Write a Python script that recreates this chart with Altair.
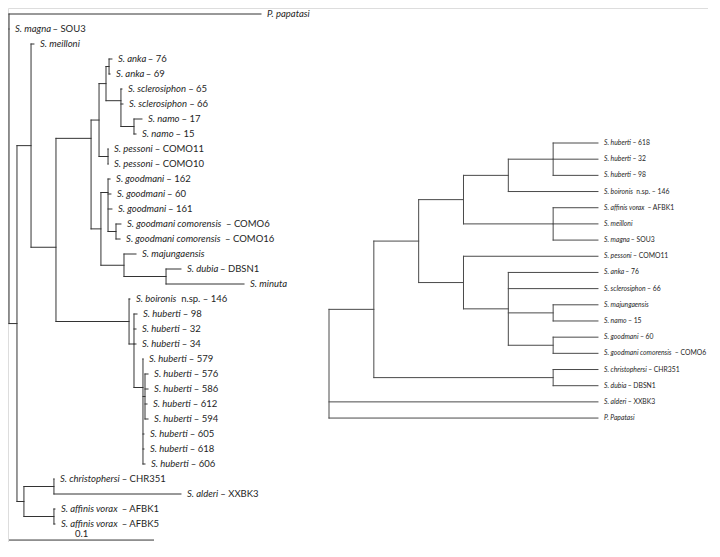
import altair as alt
import pandas as pd

# ---------------- Left tree: phylogram (branch lengths, substitutions/site) ----------------
L_id = ["root", "papatasi", "magna", "B", "C", "meilloni", "D", "E", "F", "F1", "ANKA", "anka76", "anka69",
        "F2", "scl65", "scl66", "NAMO", "namo17", "namo15", "PESS", "pess11", "pess10",
        "G", "GOOD", "good162", "good60", "good161", "COMOR", "com6", "com16",
        "MAJ", "majung", "DM", "dubia", "minuta",
        "H", "boironis", "H2", "h98", "h32", "h34", "H3", "h579", "H4", "h576", "h586", "h612", "h594",
        "h605", "h618", "h606",
        "CAAF", "CA", "christ", "alderi", "AF", "afbk1", "afbk5"]
L_parent = [None, "root", "root", "root", "B", "C", "C", "D", "E", "F", "F1", "ANKA", "ANKA",
            "F1", "F2", "F2", "F2", "NAMO", "NAMO", "F", "PESS", "PESS",
            "E", "G", "GOOD", "GOOD", "GOOD", "GOOD", "COMOR", "COMOR",
            "G", "MAJ", "MAJ", "DM", "DM",
            "D", "H", "H", "H2", "H2", "H2", "H2", "H3", "H3", "H4", "H4", "H4", "H4",
            "H3", "H3", "H3",
            "B", "CAAF", "CA", "CA", "CAAF", "AF", "AF"]
L_depth = [0.0, 0.1738, 0.0, 0.0055, 0.0152, 0.0172, 0.0324, 0.0566, 0.0621, 0.0669, 0.0690, 0.0710, 0.0697,
           0.0772, 0.0779, 0.0786, 0.0862, 0.0917, 0.0876, 0.0683, 0.0683, 0.0683,
           0.0634, 0.0683, 0.0697, 0.0703, 0.0710, 0.0738, 0.0772, 0.0766,
           0.0793, 0.0876, 0.1083, 0.1186, 0.1621,
           0.0828, 0.0834, 0.0862, 0.0883, 0.0876, 0.0876, 0.0924, 0.0924, 0.0938, 0.0959, 0.0959, 0.0952, 0.0959,
           0.0931, 0.0931, 0.0938,
           0.0103, 0.0310, 0.0310, 0.1186, 0.0310, 0.0317, 0.0317]
L_row = [None, 0, 1, None, None, 2, None, None, None, None, None, 3, 4,
         None, 5, 6, None, 7, 8, None, 9, 10,
         None, None, 11, 12, 13, None, 14, 15,
         None, 16, None, 17, 18,
         None, 19, None, 20, 21, 22, None, 23, None, 24, 25, 26, 27,
         28, 29, 30,
         None, None, 31, 32, None, 33, 34]
L_name = ["", "P. papatasi", "S. magna", "", "", "S. meilloni", "", "", "", "", "", "S. anka", "S. anka",
          "", "S. sclerosiphon", "S. sclerosiphon", "", "S. namo", "S. namo", "", "S. pessoni", "S. pessoni",
          "", "", "S. goodmani", "S. goodmani", "S. goodmani", "", "S. goodmani comorensis", "S. goodmani comorensis",
          "", "S. majungaensis", "", "S. dubia", "S. minuta",
          "", "S. boironis", "", "S. huberti", "S. huberti", "S. huberti", "", "S. huberti", "", "S. huberti",
          "S. huberti", "S. huberti", "S. huberti", "S. huberti", "S. huberti", "S. huberti",
          "", "", "S. christophersi", "S. alderi", "", "S. affinis vorax", "S. affinis vorax"]
L_suffix = ["", "", " – SOU3", "", "", "", "", "", "", "", "", " – 76", " – 69",
            "", " – 65", " – 66", "", " – 17", " – 15", "", " – COMO11", " – COMO10",
            "", "", " – 162", " – 60", " – 161", "", "  – COMO6", "  – COMO16",
            "", "", "", " – DBSN1", "",
            "", "  n.sp. – 146", "", " – 98", " – 32", " – 34", "", " – 579", "", " – 576", " – 586", " – 612",
            " – 594", " – 605", " – 618", " – 606",
            "", "", " – CHR351", " – XXBK3", "", "  – AFBK1", "  – AFBK5"]
# rows at which some internal nodes attach to their parent
L_attach = {"D": 15.55, "E": 8.29, "F2": 5.78, "GOOD": 11.9, "H2": 22.0, "H3": 24.9}
SCALE_BAR = 0.1

# ---------------- Right tree: cladogram (node levels) ----------------
R_id = ["R0", "R1", "R2", "R3a", "R4a", "HUB", "h618", "h32", "h98", "boir", "AFF", "afbk1", "meil", "magna",
        "R3b", "pess", "R4b", "anka", "scl", "MN", "maj", "namo", "GC", "good", "com", "CD", "chr", "dub",
        "ald", "pap"]
R_parent = [None, "R0", "R1", "R2", "R3a", "R4a", "HUB", "HUB", "HUB", "R4a", "R3a", "AFF", "AFF", "AFF",
            "R2", "R3b", "R3b", "R4b", "R4b", "R4b", "MN", "MN", "R4b", "GC", "GC", "R1", "CD", "CD",
            "R0", "R0"]
R_level = [0, 1, 2, 3, 4, 5, 6, 6, 6, 6, 5, 6, 6, 6,
           3, 6, 4, 6, 6, 5, 6, 6, 5, 6, 6, 5, 6, 6,
           6, 6]
R_row = [None, None, None, None, None, None, 0, 1, 2, 3, None, 4, 5, 6,
         None, 7, None, 8, 9, None, 10, 11, None, 12, 13, None, 14, 15,
         16, 17]
R_name = ["", "", "", "", "", "", "S. huberti", "S. huberti", "S. huberti", "S. boironis", "", "S. affinis vorax",
          "S. meilloni", "S. magna", "", "S. pessoni", "", "S. anka", "S. sclerosiphon", "", "S. majungaensis",
          "S. namo", "", "S. goodmani", "S. goodmani comorensis", "", "S. christophersi", "S. dubia",
          "S. alderi", "P. Papatasi"]
R_suffix = ["", "", "", "", "", "", " – 618", " – 32", " – 98", "  n.sp. – 146", "", "  – AFBK1",
            "", " – SOU3", "", " – COMO11", "", " – 76", " – 66", "", "",
            " – 15", "", " – 60", "  – COMO6", "", " – CHR351", " – DBSN1",
            " – XXBK3", ""]

# ---------------- layout helpers ----------------
CW = {' ': 0.226, '.': 0.252, '–': 0.498, 'a': 0.479, 'b': 0.525, 'c': 0.423, 'd': 0.525, 'e': 0.498,
      'f': 0.305, 'g': 0.471, 'h': 0.525, 'i': 0.229, 'j': 0.239, 'k': 0.455, 'l': 0.229, 'm': 0.799,
      'n': 0.525, 'o': 0.527, 'p': 0.525, 'q': 0.525, 'r': 0.349, 's': 0.391, 't': 0.335, 'u': 0.525,
      'v': 0.452, 'w': 0.715, 'x': 0.433, 'y': 0.453, 'z': 0.395, 'S': 0.459, 'P': 0.517}


def text_w(s, k):
    return sum(CW.get(c, 0.507) for c in s) * k


def build(ids, parents, xs, rows, names, suffixes, attach, px_per_unit, fs):
    xpos = dict(zip(ids, xs))
    ypos = {i: r for i, r in zip(ids, rows) if r is not None}
    kids = {}
    for i, p in zip(ids, parents):
        if p is not None:
            kids.setdefault(p, []).append(i)

    def gy(n):
        if n not in ypos:
            ys = [gy(c) for c in kids[n]]
            ypos[n] = attach.get(n, (min(ys) + max(ys)) / 2)
        return ypos[n]

    for i in ids:
        gy(i)
    segs = []
    for i, p in zip(ids, parents):
        if p is not None:
            segs.append(dict(x=xpos[p], x2=xpos[i], y=ypos[i], y2=ypos[i]))
        if i in kids:
            ys = [ypos[c] for c in kids[i]]
            segs.append(dict(x=xpos[i], x2=xpos[i], y=min(ys), y2=max(ys)))
    labs = []
    for i, nm, sf in zip(ids, names, suffixes):
        if nm:
            lead = len(sf) - len(sf.lstrip(' '))
            off = (text_w(nm, 1.0) + text_w(' ' * lead, 1.15)) * fs / px_per_unit
            labs.append(dict(x=xpos[i], y=ypos[i], name=nm, suffix=sf.strip(), sx=xpos[i] + off))
    return pd.DataFrame(segs), pd.DataFrame(labs)


W, H = 700, 534
FONT = "Lato"
LPX = 1450.0       # px per substitution unit, left tree
RPX = 44.83        # px per node level, right tree
LFS, RFS = 9.5, 6.8

lseg, llab = build(L_id, L_parent, L_depth, L_row, L_name, L_suffix, L_attach, LPX, LFS)
rseg, rlab = build(R_id, R_parent, R_level, R_row, R_name, R_suffix, {}, RPX, RFS)

LX = alt.Scale(domain=[-1 / LPX, (W - 1) / LPX], nice=False, zero=False)
LY = alt.Scale(domain=[-0.4, -0.4 + H / 15.0], nice=False, zero=False, reverse=True)
RX = alt.Scale(domain=[-321 / RPX, (W - 321) / RPX], nice=False, zero=False)
RY = alt.Scale(domain=[-135 / 16.18, -135 / 16.18 + H / 16.18], nice=False, zero=False, reverse=True)


def segs_layer(df, xs, ys, color):
    return alt.Chart(df).mark_rule(color=color, strokeWidth=1, strokeCap="square").encode(
        x=alt.X("x:Q", scale=xs, axis=None), x2="x2:Q",
        y=alt.Y("y:Q", scale=ys, axis=None), y2="y2:Q")


def text_layer(df, field, xfield, xs, ys, fs, italic):
    kw = dict(align="left", baseline="middle", dx=6, font=FONT, fontSize=fs, color="#1e1e1e")
    if italic:
        kw["fontStyle"] = "italic"
    return alt.Chart(df).mark_text(**kw).encode(
        x=alt.X(f"{xfield}:Q", scale=xs, axis=None),
        y=alt.Y("y:Q", scale=ys, axis=None),
        text=f"{field}:N")


bar_df = pd.DataFrame([dict(x=0.0, x2=SCALE_BAR, y=35.07, y2=35.07, t=str(SCALE_BAR), xm=SCALE_BAR / 2, yt=34.87)])
bar = alt.Chart(bar_df).mark_rule(color="#333333", strokeWidth=1).encode(
    x=alt.X("x:Q", scale=LX, axis=None), x2="x2:Q",
    y=alt.Y("y:Q", scale=LY, axis=None), y2="y2:Q")
bar_txt = alt.Chart(bar_df).mark_text(align="center", baseline="alphabetic", font=FONT, fontSize=9.5,
                                      color="#1e1e1e").encode(
    x=alt.X("xm:Q", scale=LX, axis=None), y=alt.Y("yt:Q", scale=LY, axis=None), text="t:N")

rlab_s = rlab[rlab["suffix"] != ""]
llab_s = llab[llab["suffix"] != ""]

chart = alt.layer(
    segs_layer(lseg, LX, LY, "#333333"),
    text_layer(llab, "name", "x", LX, LY, LFS, True),
    text_layer(llab_s, "suffix", "sx", LX, LY, LFS, False),
    bar, bar_txt,
    segs_layer(rseg, RX, RY, "#4a4a4a"),
    text_layer(rlab, "name", "x", RX, RY, RFS, True),
    text_layer(rlab_s, "suffix", "sx", RX, RY, RFS, False),
).resolve_scale(x="independent", y="independent").properties(
    width=W, height=H, padding=0, autosize="none"
).configure_view(stroke=None).configure(background="white")

chart.save("out.html", embed_options={"renderer": "svg", "actions": False})
